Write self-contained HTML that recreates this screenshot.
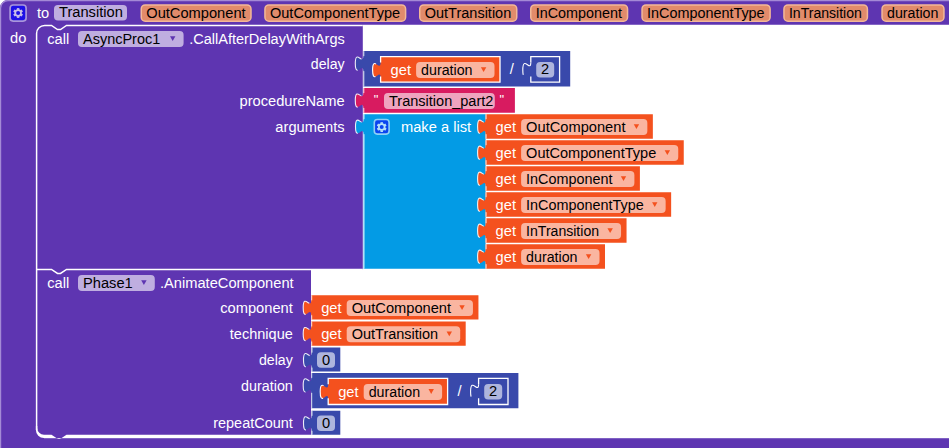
<!DOCTYPE html><html><head><meta charset="utf-8"><style>html,body{margin:0;padding:0;background:#fff;width:949px;height:448px;overflow:hidden}svg{display:block}</style></head><body><svg width="949" height="448" viewBox="0 0 949 448">
<g font-family="Liberation Sans, sans-serif" font-size="14.6667">
<path d="M 8,0 H 960 V 24.8 H 362.8 V 269.5 H 311 V 438 H 960 V 448 H 0 V 8 A 8 8 0 0 1 8 0 Z" fill="#5E35B1"/>
<path d="M 0.6,448 V 8 A 7.4 7.4 0 0 1 8,0.6 H 960" fill="none" stroke="#A48AD6" stroke-width="1.2"/>
<path d="M 36.6,430 V 33.5 A 8 8 0 0 1 44.6,25.5 H 51.5 l 6,4 3,0 6,-4 H 362.8" fill="none" stroke="#fff" stroke-width="1.5"/>
<path d="M 36.6,269.4 H 51.5 l 6,4 3,0 6,-4 H 362.8" fill="none" stroke="#fff" stroke-width="1.5"/>
<path d="M 35.9,426 V 430 A 8 8 0 0 0 43.9,438 H 311 V 434.7 H 66.5 l -6,4 -3,0 -6,-4 H 44 A 6.7 6.7 0 0 1 37.3,428 V 426 Z" fill="#fff"/>
<path d="M 44,438.6 H 57.5 M 60.5,438.6 H 960" fill="none" stroke="#8466C6" stroke-width="1"/>
<rect x="10.1" y="5" width="16" height="16.1" rx="3" fill="#1E10E6" stroke="#A996DA" stroke-width="1.7"/>
<g transform="translate(18.1,13)" fill="#C9BDE8"><path fill-rule="evenodd" d="M 3.75,0 A 3.75 3.75 0 1 0 -3.75,0 A 3.75 3.75 0 1 0 3.75,0 Z M 2.0,0 A 2.0 2.0 0 1 1 -2.0,0 A 2.0 2.0 0 1 1 2.0,0 Z"/><rect x="-1.25" y="-4.9" width="2.5" height="1.7500000000000004" transform="rotate(0)"/><rect x="-1.25" y="3.15" width="2.5" height="1.7500000000000004" transform="rotate(0)"/><rect x="-1.25" y="-4.9" width="2.5" height="1.7500000000000004" transform="rotate(60)"/><rect x="-1.25" y="3.15" width="2.5" height="1.7500000000000004" transform="rotate(60)"/><rect x="-1.25" y="-4.9" width="2.5" height="1.7500000000000004" transform="rotate(120)"/><rect x="-1.25" y="3.15" width="2.5" height="1.7500000000000004" transform="rotate(120)"/></g>
<text x="37" y="17.8" fill="#fff" text-anchor="start">to</text>
<rect x="54" y="5" width="73" height="15.5" rx="4" ry="4" fill="#BFAEE0"/>
<text x="59" y="17.3" fill="#000" text-anchor="start">Transition</text>
<rect x="141.25" y="4.9" width="109.75" height="16.3" rx="4" ry="4" fill="#E18B6B" stroke="#F2B898" stroke-width="1.5"/>
<text x="146.25" y="17.6" fill="#000" text-anchor="start">OutComponent</text>
<rect x="264.95" y="4.9" width="140.65" height="16.3" rx="4" ry="4" fill="#E18B6B" stroke="#F2B898" stroke-width="1.5"/>
<text x="269.95" y="17.6" fill="#000" text-anchor="start" textLength="130.15" lengthAdjust="spacingAndGlyphs">OutComponentType</text>
<rect x="419.75" y="4.9" width="97.0" height="16.3" rx="4" ry="4" fill="#E18B6B" stroke="#F2B898" stroke-width="1.5"/>
<text x="424.75" y="17.6" fill="#000" text-anchor="start" textLength="86.5" lengthAdjust="spacingAndGlyphs">OutTransition</text>
<rect x="530.75" y="4.9" width="96.8" height="16.3" rx="4" ry="4" fill="#E18B6B" stroke="#F2B898" stroke-width="1.5"/>
<text x="535.75" y="17.6" fill="#000" text-anchor="start" textLength="86.3" lengthAdjust="spacingAndGlyphs">InComponent</text>
<rect x="642.05" y="4.9" width="128.05" height="16.3" rx="4" ry="4" fill="#E18B6B" stroke="#F2B898" stroke-width="1.5"/>
<text x="647.05" y="17.6" fill="#000" text-anchor="start" textLength="117.55" lengthAdjust="spacingAndGlyphs">InComponentType</text>
<rect x="783.95" y="4.9" width="83.45" height="16.3" rx="4" ry="4" fill="#E18B6B" stroke="#F2B898" stroke-width="1.5"/>
<text x="788.95" y="17.6" fill="#000" text-anchor="start" textLength="72.95" lengthAdjust="spacingAndGlyphs">InTransition</text>
<rect x="882.05" y="4.9" width="61.9" height="16.3" rx="4" ry="4" fill="#E18B6B" stroke="#F2B898" stroke-width="1.5"/>
<text x="887.05" y="17.6" fill="#000" text-anchor="start" textLength="51.4" lengthAdjust="spacingAndGlyphs">duration</text>
<text x="10" y="42.8" fill="#fff" text-anchor="start">do</text>
<text x="47.2" y="43.7" fill="#fff" text-anchor="start">call</text>
<rect x="78" y="31" width="105.6" height="16" rx="4" ry="4" fill="#BFAEE0"/>
<text x="83" y="44.1" fill="#000" text-anchor="start" textLength="77.3" lengthAdjust="spacingAndGlyphs">AsyncProc1</text>
<path d="M 170.0,36.2 h 5.4 l -2.7,4.8 z" fill="#5E35B1"/>
<text x="189.2" y="43.7" fill="#fff" text-anchor="start" textLength="155.6" lengthAdjust="spacingAndGlyphs">.CallAfterDelayWithArgs</text>
<text x="344.6" y="69.1" fill="#fff" text-anchor="end" textLength="33.8" lengthAdjust="spacingAndGlyphs">delay</text>
<text x="344.6" y="105.8" fill="#fff" text-anchor="end">procedureName</text>
<text x="344.6" y="132.0" fill="#fff" text-anchor="end">arguments</text>
<text x="47.2" y="287.5" fill="#fff" text-anchor="start">call</text>
<rect x="78" y="275" width="76.8" height="16" rx="4" ry="4" fill="#BFAEE0"/>
<text x="83" y="288.1" fill="#000" text-anchor="start">Phase1</text>
<path d="M 141.20000000000002,280.2 h 5.4 l -2.7,4.8 z" fill="#5E35B1"/>
<text x="160" y="287.5" fill="#fff" text-anchor="start">.AnimateComponent</text>
<text x="292.8" y="312.8" fill="#fff" text-anchor="end">component</text>
<text x="292.8" y="338.9" fill="#fff" text-anchor="end" textLength="63.0" lengthAdjust="spacingAndGlyphs">technique</text>
<text x="292.8" y="365.4" fill="#fff" text-anchor="end" textLength="33.8" lengthAdjust="spacingAndGlyphs">delay</text>
<text x="292.8" y="391.3" fill="#fff" text-anchor="end" textLength="51.7" lengthAdjust="spacingAndGlyphs">duration</text>
<text x="292.8" y="428.0" fill="#fff" text-anchor="end" textLength="79.6" lengthAdjust="spacingAndGlyphs">repeatCount</text>
<path d="M 363.3,51.1 H 570.2 V 86.4 H 363.3 V 71.1 c 0,-10 -8,8 -8,-7.5 s 8,2.5 8,-7.5 V 51.1 Z" fill="#3949AB"/>
<path d="M 363.8,86.4 V 71.1 M 363.8,56.1 V 51.1" fill="none" stroke="#FFFFFF" stroke-opacity="0.8" stroke-width="1"/>
<path d="M 363.3,56.1 C 363.3,66.1 355.3,48.1 355.3,63.6 C 355.3,79.1 363.3,61.1 363.3,71.1" fill="none" stroke="#FFFFFF" stroke-opacity="0.9" stroke-width="1.1" stroke-dasharray="0 4.5 19.5 100"/>
<path d="M 380.6,56.6 H 500.0 V 82.2 H 380.6 V 77.6 c 0,-10 -8,8 -8,-7.5 s 8,2.5 8,-7.5 V 56.6 Z" fill="#F4511E"/>
<path d="M 380.6,76.6 V 82.2 H 500.0 V 56.6 H 380.6 V 62.6" fill="none" stroke="#FFFFFF" stroke-width="1.3"/>
<path d="M 380.6,62.6 C 380.6,72.6 372.6,54.6 372.6,70.1 C 372.6,85.6 380.6,67.6 380.6,77.6" fill="none" stroke="#FFFFFF" stroke-width="1.1" stroke-dasharray="0 7.5 17 100"/>
<text x="390.6" y="74.8" fill="#fff" text-anchor="start">get</text>
<rect x="416.1" y="62.1" width="78.4" height="16" rx="4" ry="4" fill="#FAB5A0"/>
<text x="421.1" y="75.2" fill="#000" text-anchor="start" textLength="51.4" lengthAdjust="spacingAndGlyphs">duration</text>
<path d="M 480.9,67.3 h 5.4 l -2.7,4.8 z" fill="#F4511E"/>
<text x="509.8" y="73.8" fill="#fff" text-anchor="start">/</text>
<path d="M 530.8,56.6 H 559.5999999999999 V 82.2 H 530.8 V 77.6 c 0,-10 -8,8 -8,-7.5 s 8,2.5 8,-7.5 V 56.6 Z" fill="#3949AB"/>
<path d="M 530.8,76.6 V 82.2 H 559.5999999999999 V 56.6 H 530.8 V 62.6" fill="none" stroke="#FFFFFF" stroke-width="1.3"/>
<path d="M 530.8,62.6 C 530.8,72.6 522.8,54.6 522.8,70.1 C 522.8,85.6 530.8,67.6 530.8,77.6" fill="none" stroke="#FFFFFF" stroke-width="1.1" stroke-dasharray="21 100"/>
<rect x="536.2" y="62" width="18" height="15.4" rx="4" ry="4" fill="#AEB5DD"/>
<text x="541" y="74.3" fill="#000" text-anchor="start">2</text>
<path d="M 363.3,88 H 514.9 V 112.7 H 363.3 V 108 c 0,-10 -8,8 -8,-7.5 s 8,2.5 8,-7.5 V 88 Z" fill="#D81B60"/>
<path d="M 363.8,112.7 V 108 M 363.8,93 V 88" fill="none" stroke="#FFFFFF" stroke-opacity="0.8" stroke-width="1"/>
<path d="M 363.3,93 C 363.3,103 355.3,85 355.3,100.5 C 355.3,116 363.3,98 363.3,108" fill="none" stroke="#FFFFFF" stroke-opacity="0.9" stroke-width="1.1" stroke-dasharray="0 4.5 19.5 100"/>
<text x="373.8" y="103.6" fill="#fff" font-size="13">"</text>
<rect x="384" y="93" width="110.8" height="16" rx="4" ry="4" fill="#EFA4BF"/>
<text x="389" y="105.7" fill="#000" text-anchor="start" textLength="104.4" lengthAdjust="spacingAndGlyphs">Transition_part2</text>
<text x="499.6" y="103.6" fill="#fff" font-size="13">"</text>
<path d="M 363.5,114.2 H 485.6 V 268.7 H 363.5 V 134.2 c 0,-10 -8,8 -8,-7.5 s 8,2.5 8,-7.5 V 114.2 Z" fill="#039BE5"/>
<path d="M 364.0,268.7 V 134.2 M 364.0,119.2 V 114.2" fill="none" stroke="#FFFFFF" stroke-opacity="0.8" stroke-width="1"/>
<path d="M 363.5,119.2 C 363.5,129.2 355.5,111.2 355.5,126.7 C 355.5,142.2 363.5,124.2 363.5,134.2" fill="none" stroke="#FFFFFF" stroke-opacity="0.9" stroke-width="1.1" stroke-dasharray="0 4.5 19.5 100"/>
<rect x="374.3" y="119.5" width="14.8" height="14.6" rx="3" fill="#0A44F0" stroke="#8FD0F5" stroke-width="1.6"/>
<g transform="translate(381.7,127.1)" fill="#B5E0F8"><path fill-rule="evenodd" d="M 3.75,0 A 3.75 3.75 0 1 0 -3.75,0 A 3.75 3.75 0 1 0 3.75,0 Z M 2.0,0 A 2.0 2.0 0 1 1 -2.0,0 A 2.0 2.0 0 1 1 2.0,0 Z"/><rect x="-1.25" y="-4.9" width="2.5" height="1.7500000000000004" transform="rotate(0)"/><rect x="-1.25" y="3.15" width="2.5" height="1.7500000000000004" transform="rotate(0)"/><rect x="-1.25" y="-4.9" width="2.5" height="1.7500000000000004" transform="rotate(60)"/><rect x="-1.25" y="3.15" width="2.5" height="1.7500000000000004" transform="rotate(60)"/><rect x="-1.25" y="-4.9" width="2.5" height="1.7500000000000004" transform="rotate(120)"/><rect x="-1.25" y="3.15" width="2.5" height="1.7500000000000004" transform="rotate(120)"/></g>
<text x="401" y="131.5" fill="#fff" text-anchor="start">make a list</text>
<path d="M 485.6,114.2 H 652.85 V 138.7 H 485.6 V 134.2 c 0,-10 -8,8 -8,-7.5 s 8,2.5 8,-7.5 V 114.2 Z" fill="#F4511E"/>
<path d="M 486.1,138.7 V 134.2 M 486.1,119.2 V 114.2" fill="none" stroke="#FFFFFF" stroke-opacity="0.8" stroke-width="1"/>
<path d="M 485.6,119.2 C 485.6,129.2 477.6,111.2 477.6,126.7 C 477.6,142.2 485.6,124.2 485.6,134.2" fill="none" stroke="#FFFFFF" stroke-opacity="0.9" stroke-width="1.1" stroke-dasharray="0 4.5 19.5 100"/>
<text x="495.6" y="131.9" fill="#fff" text-anchor="start">get</text>
<rect x="521.1" y="119.0" width="126.25" height="16" rx="4" ry="4" fill="#FAB5A0"/>
<text x="526.1" y="132.1" fill="#000" text-anchor="start">OutComponent</text>
<path d="M 633.75,124.2 h 5.4 l -2.7,4.8 z" fill="#F4511E"/>
<path d="M 485.6,140.2 H 683.75 V 164.7 H 485.6 V 160.2 c 0,-10 -8,8 -8,-7.5 s 8,2.5 8,-7.5 V 140.2 Z" fill="#F4511E"/>
<path d="M 486.1,164.7 V 160.2 M 486.1,145.2 V 140.2" fill="none" stroke="#FFFFFF" stroke-opacity="0.8" stroke-width="1"/>
<path d="M 485.6,145.2 C 485.6,155.2 477.6,137.2 477.6,152.7 C 477.6,168.2 485.6,150.2 485.6,160.2" fill="none" stroke="#FFFFFF" stroke-opacity="0.9" stroke-width="1.1" stroke-dasharray="0 4.5 19.5 100"/>
<text x="495.6" y="157.89999999999998" fill="#fff" text-anchor="start">get</text>
<rect x="521.1" y="145.0" width="157.15" height="16" rx="4" ry="4" fill="#FAB5A0"/>
<text x="526.1" y="158.1" fill="#000" text-anchor="start" textLength="130.15" lengthAdjust="spacingAndGlyphs">OutComponentType</text>
<path d="M 664.65,150.2 h 5.4 l -2.7,4.8 z" fill="#F4511E"/>
<path d="M 485.6,166.2 H 639.9000000000001 V 190.7 H 485.6 V 186.2 c 0,-10 -8,8 -8,-7.5 s 8,2.5 8,-7.5 V 166.2 Z" fill="#F4511E"/>
<path d="M 486.1,190.7 V 186.2 M 486.1,171.2 V 166.2" fill="none" stroke="#FFFFFF" stroke-opacity="0.8" stroke-width="1"/>
<path d="M 485.6,171.2 C 485.6,181.2 477.6,163.2 477.6,178.7 C 477.6,194.2 485.6,176.2 485.6,186.2" fill="none" stroke="#FFFFFF" stroke-opacity="0.9" stroke-width="1.1" stroke-dasharray="0 4.5 19.5 100"/>
<text x="495.6" y="183.89999999999998" fill="#fff" text-anchor="start">get</text>
<rect x="521.1" y="171.0" width="113.3" height="16" rx="4" ry="4" fill="#FAB5A0"/>
<text x="526.1" y="184.1" fill="#000" text-anchor="start" textLength="86.3" lengthAdjust="spacingAndGlyphs">InComponent</text>
<path d="M 620.8,176.2 h 5.4 l -2.7,4.8 z" fill="#F4511E"/>
<path d="M 485.6,192.2 H 671.1500000000001 V 216.7 H 485.6 V 212.2 c 0,-10 -8,8 -8,-7.5 s 8,2.5 8,-7.5 V 192.2 Z" fill="#F4511E"/>
<path d="M 486.1,216.7 V 212.2 M 486.1,197.2 V 192.2" fill="none" stroke="#FFFFFF" stroke-opacity="0.8" stroke-width="1"/>
<path d="M 485.6,197.2 C 485.6,207.2 477.6,189.2 477.6,204.7 C 477.6,220.2 485.6,202.2 485.6,212.2" fill="none" stroke="#FFFFFF" stroke-opacity="0.9" stroke-width="1.1" stroke-dasharray="0 4.5 19.5 100"/>
<text x="495.6" y="209.89999999999998" fill="#fff" text-anchor="start">get</text>
<rect x="521.1" y="197.0" width="144.55" height="16" rx="4" ry="4" fill="#FAB5A0"/>
<text x="526.1" y="210.1" fill="#000" text-anchor="start" textLength="117.55" lengthAdjust="spacingAndGlyphs">InComponentType</text>
<path d="M 652.05,202.2 h 5.4 l -2.7,4.8 z" fill="#F4511E"/>
<path d="M 485.6,218.2 H 626.55 V 242.7 H 485.6 V 238.2 c 0,-10 -8,8 -8,-7.5 s 8,2.5 8,-7.5 V 218.2 Z" fill="#F4511E"/>
<path d="M 486.1,242.7 V 238.2 M 486.1,223.2 V 218.2" fill="none" stroke="#FFFFFF" stroke-opacity="0.8" stroke-width="1"/>
<path d="M 485.6,223.2 C 485.6,233.2 477.6,215.2 477.6,230.7 C 477.6,246.2 485.6,228.2 485.6,238.2" fill="none" stroke="#FFFFFF" stroke-opacity="0.9" stroke-width="1.1" stroke-dasharray="0 4.5 19.5 100"/>
<text x="495.6" y="235.89999999999998" fill="#fff" text-anchor="start">get</text>
<rect x="521.1" y="223.0" width="99.95" height="16" rx="4" ry="4" fill="#FAB5A0"/>
<text x="526.1" y="236.1" fill="#000" text-anchor="start" textLength="72.95" lengthAdjust="spacingAndGlyphs">InTransition</text>
<path d="M 607.45,228.2 h 5.4 l -2.7,4.8 z" fill="#F4511E"/>
<path d="M 485.6,244.2 H 605.0 V 268.7 H 485.6 V 264.2 c 0,-10 -8,8 -8,-7.5 s 8,2.5 8,-7.5 V 244.2 Z" fill="#F4511E"/>
<path d="M 486.1,268.7 V 264.2 M 486.1,249.2 V 244.2" fill="none" stroke="#FFFFFF" stroke-opacity="0.8" stroke-width="1"/>
<path d="M 485.6,249.2 C 485.6,259.2 477.6,241.2 477.6,256.7 C 477.6,272.2 485.6,254.2 485.6,264.2" fill="none" stroke="#FFFFFF" stroke-opacity="0.9" stroke-width="1.1" stroke-dasharray="0 4.5 19.5 100"/>
<text x="495.6" y="261.9" fill="#fff" text-anchor="start">get</text>
<rect x="521.1" y="249.0" width="78.4" height="16" rx="4" ry="4" fill="#FAB5A0"/>
<text x="526.1" y="262.1" fill="#000" text-anchor="start" textLength="51.4" lengthAdjust="spacingAndGlyphs">duration</text>
<path d="M 585.9,254.2 h 5.4 l -2.7,4.8 z" fill="#F4511E"/>
<path d="M 311.2,295.3 H 478.45 V 319.6 H 311.2 V 315.3 c 0,-10 -8,8 -8,-7.5 s 8,2.5 8,-7.5 V 295.3 Z" fill="#F4511E"/>
<path d="M 311.7,319.6 V 315.3 M 311.7,300.3 V 295.3" fill="none" stroke="#FFFFFF" stroke-opacity="0.8" stroke-width="1"/>
<path d="M 311.2,300.3 C 311.2,310.3 303.2,292.3 303.2,307.8 C 303.2,323.3 311.2,305.3 311.2,315.3" fill="none" stroke="#FFFFFF" stroke-opacity="0.9" stroke-width="1.1" stroke-dasharray="0 4.5 19.5 100"/>
<text x="321.2" y="313.0" fill="#fff" text-anchor="start">get</text>
<rect x="346.7" y="300.1" width="126.25" height="16" rx="4" ry="4" fill="#FAB5A0"/>
<text x="351.7" y="313.20000000000005" fill="#000" text-anchor="start">OutComponent</text>
<path d="M 459.34999999999997,305.3 h 5.4 l -2.7,4.8 z" fill="#F4511E"/>
<path d="M 311.2,321.5 H 465.7 V 345.8 H 311.2 V 341.5 c 0,-10 -8,8 -8,-7.5 s 8,2.5 8,-7.5 V 321.5 Z" fill="#F4511E"/>
<path d="M 311.7,345.8 V 341.5 M 311.7,326.5 V 321.5" fill="none" stroke="#FFFFFF" stroke-opacity="0.8" stroke-width="1"/>
<path d="M 311.2,326.5 C 311.2,336.5 303.2,318.5 303.2,334.0 C 303.2,349.5 311.2,331.5 311.2,341.5" fill="none" stroke="#FFFFFF" stroke-opacity="0.9" stroke-width="1.1" stroke-dasharray="0 4.5 19.5 100"/>
<text x="321.2" y="339.2" fill="#fff" text-anchor="start">get</text>
<rect x="346.7" y="326.3" width="113.5" height="16" rx="4" ry="4" fill="#FAB5A0"/>
<text x="351.7" y="339.40000000000003" fill="#000" text-anchor="start" textLength="86.5" lengthAdjust="spacingAndGlyphs">OutTransition</text>
<path d="M 446.59999999999997,331.5 h 5.4 l -2.7,4.8 z" fill="#F4511E"/>
<path d="M 311.5,347.6 H 340.3 V 371.6 H 311.5 V 367.6 c 0,-10 -8,8 -8,-7.5 s 8,2.5 8,-7.5 V 347.6 Z" fill="#3949AB"/>
<path d="M 312.0,371.6 V 367.6 M 312.0,352.6 V 347.6" fill="none" stroke="#FFFFFF" stroke-opacity="0.8" stroke-width="1"/>
<path d="M 311.5,352.6 C 311.5,362.6 303.5,344.6 303.5,360.1 C 303.5,375.6 311.5,357.6 311.5,367.6" fill="none" stroke="#FFFFFF" stroke-opacity="0.9" stroke-width="1.1" stroke-dasharray="0 4.5 19.5 100"/>
<rect x="317.0" y="352.20000000000005" width="18" height="15.6" rx="4" ry="4" fill="#AEB5DD"/>
<text x="321.9" y="364.8" fill="#000" text-anchor="start">0</text>
<path d="M 311.2,372.9 H 518.4 V 408.29999999999995 H 311.2 V 392.9 c 0,-10 -8,8 -8,-7.5 s 8,2.5 8,-7.5 V 372.9 Z" fill="#3949AB"/>
<path d="M 311.7,408.29999999999995 V 392.9 M 311.7,377.9 V 372.9" fill="none" stroke="#FFFFFF" stroke-opacity="0.8" stroke-width="1"/>
<path d="M 311.2,377.9 C 311.2,387.9 303.2,369.9 303.2,385.4 C 303.2,400.9 311.2,382.9 311.2,392.9" fill="none" stroke="#FFFFFF" stroke-opacity="0.9" stroke-width="1.1" stroke-dasharray="0 4.5 19.5 100"/>
<path d="M 328.2,378.3 H 447.6 V 404.5 H 328.2 V 399.3 c 0,-10 -8,8 -8,-7.5 s 8,2.5 8,-7.5 V 378.3 Z" fill="#F4511E"/>
<path d="M 328.2,398.3 V 404.5 H 447.6 V 378.3 H 328.2 V 384.3" fill="none" stroke="#FFFFFF" stroke-width="1.3"/>
<path d="M 328.2,384.3 C 328.2,394.3 320.2,376.3 320.2,391.8 C 320.2,407.3 328.2,389.3 328.2,399.3" fill="none" stroke="#FFFFFF" stroke-width="1.1" stroke-dasharray="0 7.5 17 100"/>
<text x="338.2" y="396.5" fill="#fff" text-anchor="start">get</text>
<rect x="363.7" y="383.90000000000003" width="78.4" height="16" rx="4" ry="4" fill="#FAB5A0"/>
<text x="368.7" y="397.00000000000006" fill="#000" text-anchor="start" textLength="51.4" lengthAdjust="spacingAndGlyphs">duration</text>
<path d="M 428.49999999999994,389.1 h 5.4 l -2.7,4.8 z" fill="#F4511E"/>
<text x="457.5" y="396" fill="#fff" text-anchor="start">/</text>
<path d="M 478.6,378.3 H 508.0 V 404.5 H 478.6 V 399.3 c 0,-10 -8,8 -8,-7.5 s 8,2.5 8,-7.5 V 378.3 Z" fill="#3949AB"/>
<path d="M 478.6,398.3 V 404.5 H 508.0 V 378.3 H 478.6 V 384.3" fill="none" stroke="#FFFFFF" stroke-width="1.3"/>
<path d="M 478.6,384.3 C 478.6,394.3 470.6,376.3 470.6,391.8 C 470.6,407.3 478.6,389.3 478.6,399.3" fill="none" stroke="#FFFFFF" stroke-width="1.1" stroke-dasharray="21 100"/>
<rect x="484.2" y="384" width="18" height="15.4" rx="4" ry="4" fill="#AEB5DD"/>
<text x="489" y="396.1" fill="#000" text-anchor="start">2</text>
<path d="M 311.5,410.8 H 340.3 V 434.7 H 311.5 V 430.8 c 0,-10 -8,8 -8,-7.5 s 8,2.5 8,-7.5 V 410.8 Z" fill="#3949AB"/>
<path d="M 312.0,434.7 V 430.8 M 312.0,415.8 V 410.8" fill="none" stroke="#FFFFFF" stroke-opacity="0.8" stroke-width="1"/>
<path d="M 311.5,415.8 C 311.5,425.8 303.5,407.8 303.5,423.3 C 303.5,438.8 311.5,420.8 311.5,430.8" fill="none" stroke="#FFFFFF" stroke-opacity="0.9" stroke-width="1.1" stroke-dasharray="0 4.5 19.5 100"/>
<rect x="317.0" y="415.40000000000003" width="18" height="15.6" rx="4" ry="4" fill="#AEB5DD"/>
<text x="321.9" y="428.0" fill="#000" text-anchor="start">0</text>
</g></svg></body></html>
